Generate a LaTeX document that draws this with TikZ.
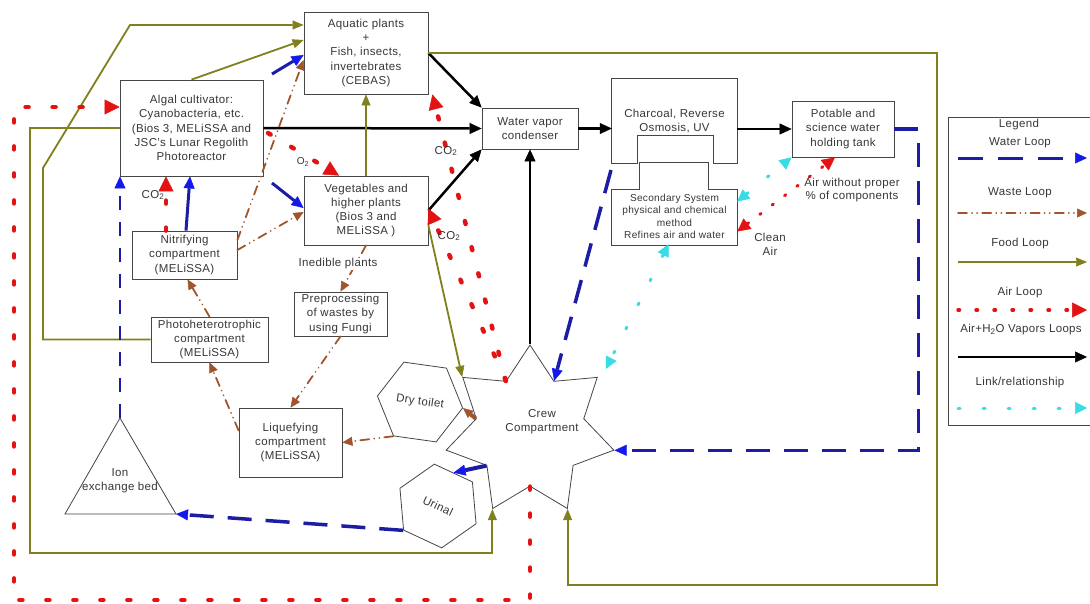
\documentclass[tikz,border=0pt]{standalone}
\usepackage{fontspec}
\setmainfont{Liberation Sans}[LetterSpace=3]
\usetikzlibrary{arrows.meta,shapes.geometric}

\definecolor{waterc}{RGB}{28,28,165}
\definecolor{watertip}{RGB}{20,25,235}
\definecolor{wastec}{RGB}{160,85,45}
\definecolor{foodc}{RGB}{128,128,30}
\definecolor{airc}{RGB}{228,18,18}
\definecolor{linkc}{RGB}{55,220,228}
\definecolor{inkc}{RGB}{55,55,55}
\definecolor{edgec}{RGB}{70,70,70}

\newcommand\txtfont{\fontsize{11.5}{14.3}\selectfont}
\newcommand\smallfont{\fontsize{10.1}{12.3}\selectfont}

\begin{document}
\begin{tikzpicture}[x=1pt,y=-1pt,
  box/.style={draw=edgec, line width=0.8pt, align=center, text=inkc, font=\txtfont, inner sep=0pt},
  plain/.style={align=center, text=inkc, font=\txtfont, inner sep=0pt},
  outline/.style={draw=edgec, line width=0.8pt},
  hexa/.style={outline, regular polygon, regular polygon sides=6, inner sep=0pt, text=inkc, font=\txtfont},
  water/.style={waterc, line width=3.5pt, dash pattern=on 24pt off 14pt,
    -{Triangle[length=12pt,width=11pt,line width=0.5pt,color=watertip]}},
  waterthin/.style={water, line width=2.8pt, dash pattern=on 14pt off 12pt},
  watersolid/.style={water, line width=3pt, solid},
  waste/.style={wastec, line width=1.8pt, line cap=round,
    dash pattern=on 9pt off 5pt on 0.1pt off 5pt on 0.1pt off 5pt,
    -{Triangle[length=10pt,width=9pt,line width=0.5pt]}},
  wastesolid/.style={waste, solid, line width=4pt, line cap=butt},
  food/.style={foodc, line width=1.8pt, -{Triangle[length=11pt,width=9pt,line width=0.5pt]}},
  air/.style={airc, line width=4.5pt, line cap=round, dash pattern=on 3pt off 24pt,
    -{Triangle[length=15pt,width=15pt,line width=0.5pt]}},
  airfine/.style={airc, line width=3pt, line cap=round, dash pattern=on 1.5pt off 14pt,
    {Triangle[length=13pt,width=13pt,line width=0.5pt]}-{Triangle[length=13pt,width=13pt,line width=0.5pt]}},
  vapor/.style={black, line width=2.5pt, -{Triangle[length=12pt,width=11pt,line width=0.5pt]}},
  link/.style={linkc, line width=3pt, line cap=round, dash pattern=on 2pt off 25pt,
    {Triangle[length=12pt,width=12pt,line width=0.5pt]}-{Triangle[length=12pt,width=12pt,line width=0.5pt]}}
]
\useasboundingbox (0,0) rectangle (1090,603);
\fill[white] (0,0) rectangle (1090,603);
\clip (0,0) rectangle (1090,603);

% ---------- compartments ----------
\node[box, minimum width=143pt, minimum height=96pt] (algal) at (191.5,128)
  {Algal cultivator:\\Cyanobacteria, etc.\\(Bios 3, MELiSSA and\\JSC's Lunar Regolith\\Photoreactor};
\node[box, minimum width=124pt, minimum height=82pt] (aquatic) at (366,53)
  {Aquatic plants\\+\\Fish, insects,\\invertebrates\\(CEBAS)};
\node[box, minimum width=96pt, minimum height=41pt] (cond) at (530,128.5)
  {Water vapor\\condenser};
\node[box, minimum width=124pt, minimum height=69pt] (veg) at (366,210.5)
  {Vegetables and\\higher plants\\(Bios 3 and\\MELiSSA )};
\node[box, minimum width=102pt, minimum height=56pt] (pot) at (843,129)
  {Potable and\\science water\\holding tank};
\node[box, minimum width=105pt, minimum height=48pt] (nitr) at (184.5,255)
  {Nitrifying\\compartment\\(MELiSSA)};
\node[box, minimum width=117pt, minimum height=45pt] (photo) at (209.5,339.5)
  {Photoheterotrophic\\compartment\\(MELiSSA)};
\node[box, minimum width=93pt, minimum height=44pt] (prep) at (340.5,314)
  {Preprocessing\\of wastes by\\using Fungi};
\node[box, minimum width=103pt, minimum height=69pt] (liq) at (290.5,442.5)
  {Liquefying\\compartment\\(MELiSSA)};

% charcoal filter with a notch for the secondary system
\node[plain, minimum width=125pt, minimum height=84pt] (charc) at (674.5,121)
  {Charcoal, Reverse\\Osmosis, UV};
\draw[outline] (charc.north west) -- (charc.north east) -- (charc.south east)
  -- ++(-24,0) -- ++(0,-28) -- ++(-76,0) -- ++(0,28) -- (charc.south west) -- cycle;
\node[plain, font=\smallfont, minimum width=125pt, minimum height=55pt] (sec) at (674.5,216.5)
  {Secondary System\\physical and chemical\\method\\Refines air and water};
\draw[outline] ([yshift=-1pt]sec.south west) -- ([yshift=-1pt]sec.north west) -- ++(28,0) -- ++(0,-27)
  -- ++(69,0) -- ++(0,27) -- ([yshift=-1pt]sec.north east) -- ([yshift=-1pt]sec.south east) -- cycle;

% ion exchange bed
\coordinate (ionA) at (120,418);
\coordinate (ionR) at (176,514);
\coordinate (ionL) at (65,514);
\draw[outline] (ionA) -- (ionR) -- (ionL) -- cycle;
\node[plain] (ion) at (120,481) {Ion\\exchange bed};

% toilet, urinal, crew
\node[hexa, minimum size=86pt, rotate=-8] (toilet) at (420,402) {Dry toilet};
\node[hexa, minimum size=84pt, rotate=-25] (urinal) at (438,506) {Urinal};
\node[outline, star, star points=7, star point ratio=1.56, minimum size=172pt, inner sep=0pt] (crew) at (530,431) {};
\node[plain] (crewtext) at (542,422) {Crew\\Compartment};

% ---------- air + H2O vapours ----------
\draw[vapor] (algal.east) -- (cond.west);
\draw[vapor] (aquatic.east) -- (cond.north west);
\draw[vapor] (veg.east) -- (cond.south west);
\draw[vapor] (crew.outer point 1) -- (cond.south);
\draw[vapor] (cond.east) -- (cond.east -| charc.west);
\draw[vapor] (pot.west -| charc.east) -- (pot.west);

% ---------- food ----------
\draw[food] (algal.west) -- (30,128) -- (30,553) -| (crew.outer point 4);
\draw[food] (photo.west) -- (43,339.5) -- (43,168) -- (130,25) -- ([yshift=28pt]aquatic.west);
\draw[food] (algal.north) -- ([yshift=13pt]aquatic.west);
\draw[food] (veg.north) -- (aquatic.south);
\draw[food] ([yshift=-15pt]veg.east) -- (crew.outer point 2);
\draw[food] (aquatic.east) -- (937,53) -- (937,585) -| (crew.outer point 5);

% ---------- water ----------
\draw[waterthin] (ionA) -- (ionA |- algal.south);
\draw[watersolid] ([xshift=1.5pt]nitr.north) -- ([xshift=-1.5pt]algal.south);
\coordinate (bluevegsrc) at (272,183);
\draw[watersolid] (bluevegsrc) -- ([yshift=2.5pt]veg.west);
\coordinate (blueaqsrc) at (272,74);
\draw[watersolid] (blueaqsrc) -- ([yshift=-2pt]aquatic.west);
\draw[water] (pot.east) -- ++(24,0) |- (crew.outer point 6);
\coordinate (bluecharsrc) at (611,170);
\draw[water] (bluecharsrc) -- (crew.inner point 7);
\draw[water] (urinal.240) -- (ionR);
\draw[watersolid, line width=4pt] (crew.inner point 3) -- (urinal.90);

% ---------- waste ----------
\draw[waste] ([yshift=5pt]nitr.east) -- ([yshift=-1.5pt]veg.west);
\draw[waste] ([yshift=15pt]nitr.east) -- ([yshift=-7pt]aquatic.west);
\draw[waste] (photo.north) -- ([xshift=3pt]nitr.south);
\draw[waste] ([yshift=12pt]liq.west) -- (photo.south);
\draw[waste] (prep.south) -- (liq.north);
\draw[waste] (veg.south) -- (prep.north);
\draw[waste] (toilet.240) -- (liq.east);
\draw[wastesolid] (crew.inner point 2) -- (toilet.0);

% ---------- air ----------
\draw[air] (crew.inner point 4) -- (crew.inner point 4 |- 0,600) -- (14,600) |- ([yshift=21pt]algal.west);
\coordinate (o2src) at (268,133);
\draw[air] (o2src) -- ([xshift=-27pt]veg.north);
\coordinate (co2n) at ([xshift=-18.5pt]nitr.north);
\draw[air] (co2n) -- (co2n |- algal.south);
\draw[air] (crew.inner point 1) -- ([xshift=4pt]aquatic.south east);
\draw[air] (crew.inner point 1) -- ([yshift=2pt]veg.east);
\draw[airfine] ([yshift=-15pt]sec.east) -- ([xshift=-8pt]pot.south);

% ---------- links ----------
\draw[link] ([yshift=15pt]sec.east) -- (pot.south west);
\draw[link] ([xshift=-6pt]sec.south) -- ([xshift=8pt,yshift=8pt]crew.outer point 7);

% ---------- labels ----------
\node[plain, font=\smallfont] (o2lbl) at (303,162) {O\textsubscript{2}};
\node[plain] (co2a) at (153,195) {CO\textsubscript{2}};
\node[plain] (co2b) at (446,151) {CO\textsubscript{2}};
\node[plain] (co2c) at (449,236) {CO\textsubscript{2}};
\node[plain, fill=white, inner sep=1pt] (inedible) at (338,264) {Inedible plants};
\node[plain] (cleanair) at (770,244) {Clean\\Air};
\node[plain, font=\fontsize{11.5}{13}\selectfont] (airwo) at (852,190) {Air without proper\\\% of components};

% ---------- legend ----------
\node[outline, minimum width=152pt, minimum height=308pt, anchor=north west, inner sep=0pt] (legendbox) at (948,117) {};
\node[plain] (lgtitle) at (1019,125) {Legend};
\node[plain] (lgwater) at (1020,143) {Water Loop};
\node[plain] (lgwaste) at (1020,193) {Waste Loop};
\node[plain] (lgfood) at (1020,244) {Food Loop};
\node[plain] (lgair) at (1020,293) {Air Loop};
\node[plain] (lgvapor) at (1021,330) {Air+H\textsubscript{2}O Vapors Loops};
\node[plain] (lglink) at (1020,383) {Link/relationship};
\coordinate (lwa) at (958,158); \coordinate (lwb) at (1087,158);
\coordinate (lsa) at (958,213); \coordinate (lsb) at (1087,213);
\coordinate (lfa) at (958,262); \coordinate (lfb) at (1087,262);
\coordinate (laa) at (958,310); \coordinate (lab) at (1087,310);
\coordinate (lva) at (958,357); \coordinate (lvb) at (1087,357);
\coordinate (lla) at (958,408); \coordinate (llb) at (1087,408);
\draw[water, line width=3pt, dash pattern=on 25pt off 15pt] (lwa) -- (lwb);
\draw[waste] (lsa) -- (lsb);
\draw[food] (lfa) -- (lfb);
\draw[air, line width=3.5pt, dash pattern=on 1.5pt off 16.5pt] (laa) -- (lab);
\draw[vapor] (lva) -- (lvb);
\draw[link, dash pattern=on 2pt off 23pt, -{Triangle[length=12pt,width=12pt,line width=0.5pt]}] (lla) -- (llb);
\end{tikzpicture}
\end{document}
